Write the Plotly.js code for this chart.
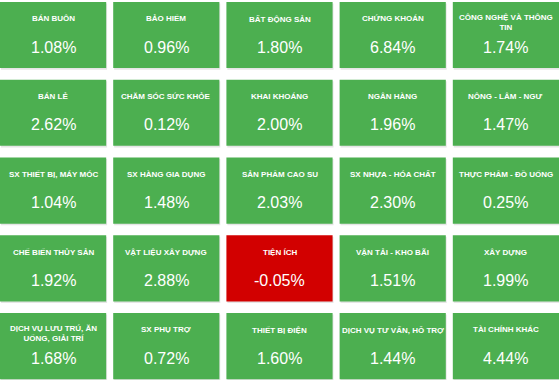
<!DOCTYPE html>
<html>
<head>
<meta charset="utf-8">
<script src="https://cdn.plot.ly/plotly-3.0.1.min.js"></script>
<style>html,body{margin:0;padding:0;background:#fff;}#chart{width:559px;height:380px;}</style>
</head>
<body>
<div id="chart"></div>
<script>
const sectors = [
  "BÁN BUÔN", "BẢO HIỂM", "BẤT ĐỘNG SẢN", "CHỨNG KHOÁN", "CÔNG NGHỆ VÀ THÔNG<br>TIN",
  "BÁN LẺ", "CHĂM SÓC SỨC KHỎE", "KHAI KHOÁNG", "NGÂN HÀNG", "NÔNG - LÂM - NGƯ",
  "SX THIẾT BỊ, MÁY MÓC", "SX HÀNG GIA DỤNG", "SẢN PHẨM CAO SU", "SX NHỰA - HÓA CHẤT", "THỰC PHẨM - ĐỒ UỐNG",
  "CHẾ BIẾN THỦY SẢN", "VẬT LIỆU XÂY DỰNG", "TIỆN ÍCH", "VẬN TẢI - KHO BÃI", "XÂY DỰNG",
  "DỊCH VỤ LƯU TRÚ, ĂN<br>UỐNG, GIẢI TRÍ", "SX PHỤ TRỢ", "THIẾT BỊ ĐIỆN", "DỊCH VỤ TƯ VẤN, HỖ TRỢ", "TÀI CHÍNH KHÁC"
];
const changes = [
  1.08, 0.96, 1.80, 6.84, 1.74,
  2.62, 0.12, 2.00, 1.96, 1.47,
  1.04, 1.48, 2.03, 2.30, 0.25,
  1.92, 2.88, -0.05, 1.51, 1.99,
  1.68, 0.72, 1.60, 1.44, 4.44
];
const nCols = 5;

const W = 0.938, H = 0.85;
const xs = [], bases = [], hs = [], colors = [], sx = [], sb = [];
const annotations = [];
sectors.forEach((name, i) => {
  const c = i % nCols, r = Math.floor(i / nCols);
  const top = -r;
  xs.push(c + W / 2);
  bases.push(top - H);
  hs.push(H);
  colors.push(changes[i] >= 0 ? "#4caf50" : "#d20000");
  sx.push(c + W / 2 + 0.008);
  sb.push(top - H - 0.02);
  const lines = name.split("<br>").length;
  annotations.push({
    x: c + W / 2, y: top - (lines > 1 ? 0.265 : 0.215), xref: "x", yref: "y",
    text: "<b>" + name + "</b>", showarrow: false,
    xanchor: "center", yanchor: "middle",
    font: {family: "Liberation Sans, Arial, sans-serif", size: 8, color: "#ffffff"}
  });
  annotations.push({
    x: c + W / 2, y: top - 0.58, xref: "x", yref: "y",
    text: changes[i].toFixed(2) + "%", showarrow: false,
    xanchor: "center", yanchor: "middle",
    font: {family: "Liberation Sans, Arial, sans-serif", size: 16, color: "#ffffff"}
  });
});

const shadow = {
  type: "bar", x: sx, y: hs, base: sb, width: W,
  marker: {color: "rgba(0,0,0,0.10)", line: {width: 0}},
  hoverinfo: "skip", showlegend: false
};
const tiles = {
  type: "bar", x: xs, y: hs, base: bases, width: W,
  marker: {color: colors, line: {width: 0}},
  hoverinfo: "skip", showlegend: false
};

const layout = {
  width: 559, height: 380,
  margin: {l: 0, r: 0, t: 0, b: 0},
  paper_bgcolor: "#ffffff", plot_bgcolor: "#ffffff",
  barmode: "overlay",
  xaxis: {range: [0, nCols - 0.062], visible: false, fixedrange: true},
  yaxis: {range: [-4.861, 0.026], autorange: false, visible: false, fixedrange: true},
  annotations: annotations,
  showlegend: false
};

Plotly.newPlot("chart", [shadow, tiles], layout, {displayModeBar: false, staticPlot: true});
</script>
</body>
</html>
